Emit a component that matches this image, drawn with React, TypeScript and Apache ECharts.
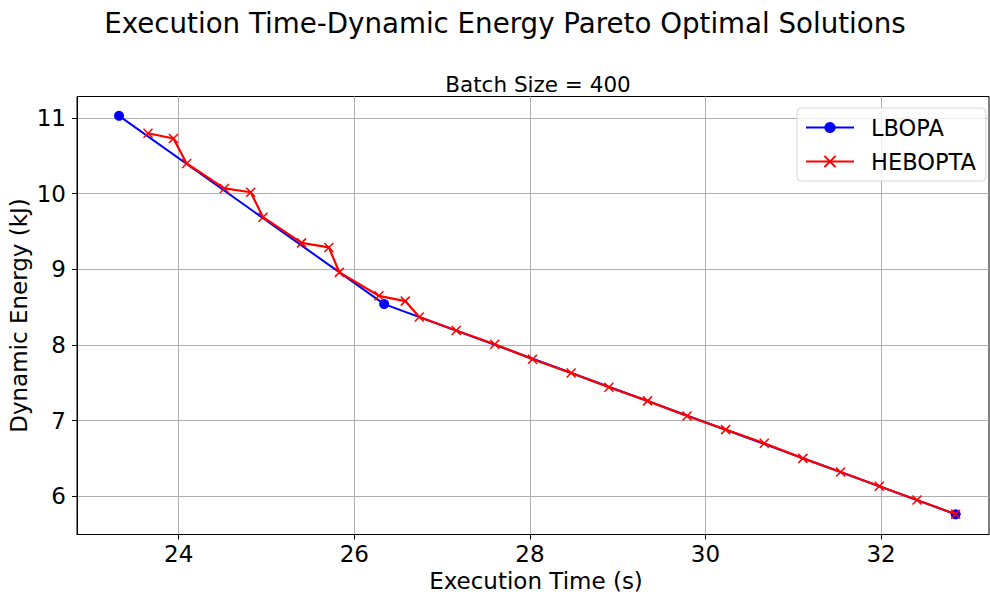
import React, { useEffect, useRef } from "react";
import * as echarts from "echarts";

const titleText = "Execution Time-Dynamic Energy Pareto Optimal Solutions";
const subtitleText = "Batch Size = 400";
const xAxisName = "Execution Time (s)";
const yAxisName = "Dynamic Energy (kJ)";

const xTicks = [24, 26, 28, 30, 32];
const yTicks = [6, 7, 8, 9, 10, 11];

const lbopaX = [23.32, 26.34, 32.85];
const lbopaY = [11.03, 8.54, 5.76];

const hebX = [
  23.65, 23.94, 24.09, 24.52, 24.82, 24.96, 25.4, 25.71, 25.83, 26.28, 26.58, 26.74,
  27.16, 27.6, 28.03, 28.47, 28.9, 29.34, 29.79, 30.23, 30.67, 31.11, 31.54, 31.98,
  32.41, 32.85,
];
const hebY = [
  10.8, 10.73, 10.4, 10.07, 10.02, 9.69, 9.35, 9.29, 8.96, 8.65, 8.58, 8.37,
  8.19, 8.01, 7.81, 7.63, 7.44, 7.26, 7.06, 6.88, 6.7, 6.5, 6.32, 6.13,
  5.95, 5.76,
];

const FONT = "DejaVu Sans";

export default function App() {
  const ref = useRef<HTMLDivElement>(null);
  useEffect(() => {
    if (!ref.current) return;
    const chart = echarts.init(ref.current, null, { renderer: "svg" });
    const zip = (xs: number[], ys: number[]) => xs.map((x, i) => [x, ys[i]]);
    chart.setOption({
      animation: false,
      backgroundColor: "#ffffff",
      textStyle: { fontFamily: FONT, color: "#000" },
      title: [
        {
          text: titleText,
          left: 500,
          top: 1,
          textAlign: "center",
          textStyle: { fontFamily: FONT, fontSize: 27.7, fontWeight: "normal", color: "#000", lineHeight: 34 },
        },
        {
          text: subtitleText,
          left: 533,
          top: 66,
          textAlign: "center",
          textStyle: { fontFamily: FONT, fontSize: 21.5, fontWeight: "normal", color: "#000", lineHeight: 26 },
        },
      ],
      grid: {
        left: 77,
        right: 1,
        top: 96.5,
        bottom: 62.5,
        containLabel: false,
        outerBoundsMode: "none",
        show: true,
        borderColor: "#000",
        borderWidth: 1,
        backgroundColor: "transparent",
      },
      legend: {
        orient: "vertical",
        left: 797,
        top: 108,
        padding: [7, 10, 7, 8],
        itemGap: 9,
        itemWidth: 48,
        itemHeight: 14,
        borderColor: "#d5d5d5",
        borderWidth: 1,
        borderRadius: 4,
        backgroundColor: "rgba(255,255,255,0.8)",
        textStyle: { fontFamily: FONT, fontSize: 22.5, color: "#000", lineHeight: 25, padding: [0, 0, 0, 12] },
        data: ["LBOPA", "HEBOPTA"],
      },
      xAxis: {
        type: "value",
        min: 22.841,
        max: 33.23,
        name: xAxisName,
        nameLocation: "middle",
        nameGap: 35,
        nameMoveOverlap: false,
        nameTextStyle: { fontFamily: FONT, fontSize: 23, color: "#000", padding: [0, 0, 0, 6] },
        axisLine: { show: true, lineStyle: { color: "#000", width: 1 } },
        axisTick: { show: true, inside: false, length: 5, customValues: xTicks, lineStyle: { color: "#000" } },
        axisLabel: { customValues: xTicks, fontFamily: FONT, fontSize: 23, color: "#000", margin: 8 },
        splitLine: { show: true, lineStyle: { color: "#b0b0b0", width: 1 } },
      },
      yAxis: {
        type: "value",
        min: 5.493,
        max: 11.286,
        name: yAxisName,
        nameLocation: "middle",
        nameGap: 47,
        nameMoveOverlap: false,
        nameTextStyle: { fontFamily: FONT, fontSize: 23, color: "#000" },
        axisLine: { show: true, lineStyle: { color: "#000", width: 1 } },
        axisTick: { show: true, inside: false, length: 5, customValues: yTicks, lineStyle: { color: "#000" } },
        axisLabel: { customValues: yTicks, fontFamily: FONT, fontSize: 23, color: "#000", margin: 11 },
        splitLine: { show: true, lineStyle: { color: "#b0b0b0", width: 1 } },
      },
      series: [
        {
          name: "LBOPA",
          type: "line",
          data: zip(lbopaX, lbopaY),
          symbol: "circle",
          symbolSize: 10,
          lineStyle: { color: "#0000ff", width: 2 },
          itemStyle: { color: "#0000ff" },
          z: 2,
        },
        {
          name: "HEBOPTA",
          type: "line",
          data: zip(hebX, hebY),
          symbol: "path://M0,0L10,10M10,0L0,10",
          symbolSize: 9,
          showAllSymbol: true,
          lineStyle: { color: "#ff0000", width: 2.2 },
          itemStyle: { color: "#ff0000", borderColor: "#ff0000", borderWidth: 1.5 },
          z: 3,
        },
      ],
    });
    return () => chart.dispose();
  }, []);
  return (
    <div
      ref={ref}
      style={{ position: "fixed", left: 0, top: 0, width: 990, height: 597 }}
    />
  );
}
